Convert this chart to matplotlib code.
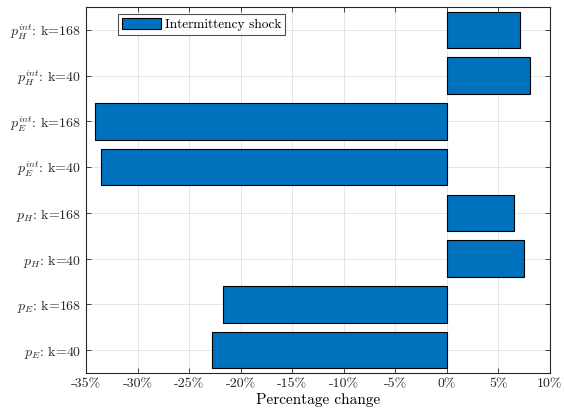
import matplotlib
matplotlib.use("Agg")
import matplotlib.pyplot as plt
import numpy as np

plt.rcParams["font.family"] = "serif"
plt.rcParams["font.serif"] = ["cmr10", "DejaVu Serif"]
plt.rcParams["mathtext.fontset"] = "cm"
plt.rcParams["axes.unicode_minus"] = False

categories = [
    r"$p_E$: k=40",
    r"$p_E$: k=168",
    r"$p_H$: k=40",
    r"$p_H$: k=168",
    r"$p_E^{int}$: k=40",
    r"$p_E^{int}$: k=168",
    r"$p_H^{int}$: k=40",
    r"$p_H^{int}$: k=168",
]
changes = [-22.8, -21.7, 7.45, 6.55, -33.5, -34.1, 8.05, 7.05]
xticks = [-35, -30, -25, -20, -15, -10, -5, 0, 5, 10]
xticklabels = [f"{t}%" for t in xticks]

fig = plt.figure(figsize=(5.64, 4.19), dpi=100)
ax = fig.add_axes([86 / 564, 1 - 373 / 419, (550 - 86) / 564, (373 - 7) / 419])

y = np.arange(1, len(categories) + 1)
ax.barh(y, changes, height=0.8, color="#0072BD", edgecolor="#000000",
        linewidth=0.8, label="Intermittency shock", zorder=3)

ax.set_xlim(-35, 10)
ax.set_ylim(0.5, 8.5)
ax.set_xticks(xticks)
ax.set_xticklabels(xticklabels, fontsize=10)
ax.set_yticks(y)
ax.set_yticklabels(categories, fontsize=10)
ax.set_xlabel("Percentage change", fontsize=11, labelpad=2)

ax.grid(True, color="#e0e0e0", linewidth=0.6, zorder=0)
ax.set_axisbelow(True)
ax.tick_params(direction="in", top=True, right=True, length=3.5, width=0.6,
               colors="#262626", labelcolor="#262626")
for s in ax.spines.values():
    s.set_linewidth(0.8)
    s.set_color("#262626")

leg = ax.legend(loc="upper left", bbox_to_anchor=(0.069, 0.981), fontsize=9.6,
                frameon=True, fancybox=False, edgecolor="#262626",
                handlelength=2.9, handleheight=0.9, borderpad=0.3,
                handletextpad=0.3, borderaxespad=0.0)
leg.get_frame().set_linewidth(0.8)

fig.savefig("out.png", dpi=100)
